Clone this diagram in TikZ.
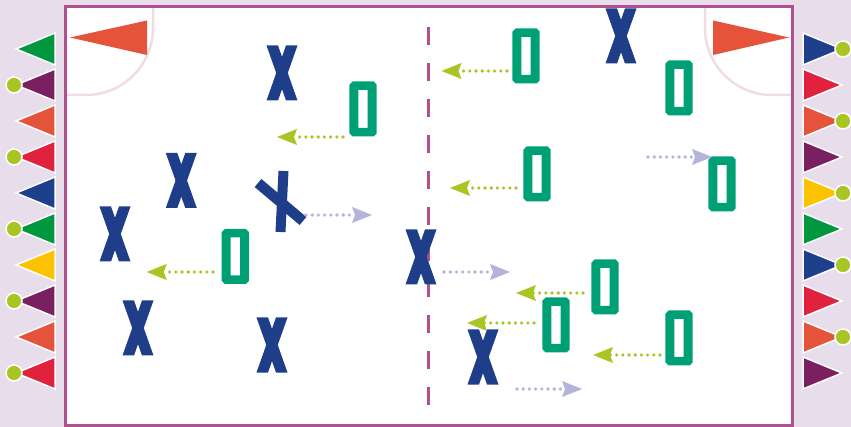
\documentclass[tikz,border=0pt]{standalone}
\usetikzlibrary{arrows.meta}

\definecolor{bg}{HTML}{E8DEEB}
\definecolor{frame}{HTML}{B0508F}
\definecolor{arcpink}{HTML}{F0DCE7}
\definecolor{fgreen}{HTML}{00973F}
\definecolor{fpurple}{HTML}{7A1F60}
\definecolor{forange}{HTML}{E5533A}
\definecolor{fred}{HTML}{E0223F}
\definecolor{fblue}{HTML}{1D3F8C}
\definecolor{fyellow}{HTML}{FBC200}
\definecolor{lime}{HTML}{A8C523}
\definecolor{xblue}{HTML}{1F3E8A}
\definecolor{ogreen}{HTML}{00A077}
\definecolor{lav}{HTML}{B3B3DB}

\tikzset{
  xmark/.pic={
    \fill[xblue] (-15.5,-27.5) -- (-4,-27.5) -- (15.5,27.5) -- (4,27.5) -- cycle;
    \fill[xblue] (15.5,-27.5) -- (4,-27.5) -- (-15.5,27.5) -- (-4,27.5) -- cycle;
  },
  omark/.pic={
    \fill[ogreen, even odd rule]
      (-10.5,-27.5) -- (10.5,-27.5) -- (13.7,-24.3) -- (13.7,24.3) -- (10.5,27.5)
      -- (-10.5,27.5) -- (-13.7,24.3) -- (-13.7,-24.3) -- cycle
      (-4.7,-19) rectangle (4.7,19);
  },
  passarrow/.style={draw=lime, line width=3.6pt, line cap=round,
    dash pattern=on 0pt off 6.2pt,
    -{Stealth[length=20pt,width=16pt,inset=3pt,line width=0pt,fill=lime]}},
  runarrow/.style={draw=lav, line width=3.6pt, line cap=round,
    dash pattern=on 0pt off 6.2pt,
    -{Stealth[length=20pt,width=16pt,inset=3pt,line width=0pt,fill=lav]}},
  pennant/.style={draw=white, line width=1.5pt, line join=miter},
  knob/.style={fill=lime, draw=white, line width=1.5pt},
}

\begin{document}
\begin{tikzpicture}[x=1pt,y=-1pt]
  \useasboundingbox (0,0) rectangle (851,427);
  \fill[bg] (0,0) rectangle (851,427);

  % playing field
  \fill[white] (65,7) rectangle (792.5,425.5);

  % corner zones
  \draw[arcpink, line width=2.5pt] (153,7) -- (153,28)
    arc[start angle=0, end angle=90, radius=67] -- (65,95);
  \draw[arcpink, line width=2.5pt] (705,7) -- (705,28)
    arc[start angle=180, end angle=90, radius=67] -- (792,95);

  % corner flags
  \fill[forange] (70,37.5) -- (147,20.5) -- (147,55) -- cycle;
  \fill[forange] (789,37.5) -- (713,20.5) -- (713,55) -- cycle;

  % halfway line
  \draw[frame, line width=3pt, dash pattern=on 18pt off 18pt] (428.5,27) -- (428.5,405);

  % left bunting
  \foreach \c [count=\i from 0] in {fgreen,fpurple,forange,fred,fblue,fgreen,fyellow,fpurple,forange,fred}{
    \pgfmathsetmacro\yy{49+36*\i}
    \filldraw[pennant, fill=\c] (55,\yy-16) -- (16,\yy) -- (55,\yy+16) -- cycle;
  }
  \foreach \k in {1,3,5,7,9}{
    \pgfmathsetmacro\yy{49+36*\k}
    \filldraw[knob] (14,\yy) circle[radius=8];
  }

  % right bunting
  \foreach \c [count=\i from 0] in {fblue,fred,forange,fpurple,fyellow,fgreen,fblue,fred,forange,fpurple}{
    \pgfmathsetmacro\yy{49+36*\i}
    \filldraw[pennant, fill=\c] (803,\yy-16) -- (842,\yy) -- (803,\yy+16) -- cycle;
  }
  \foreach \k in {0,2,4,6,8}{
    \pgfmathsetmacro\yy{49+36*\k}
    \filldraw[knob] (843,\yy) circle[radius=8];
  }

  % attackers (X)
  \pic at (282,73) {xmark};
  \pic at (181.3,180.5) {xmark};
  \pic at (115,234) {xmark};
  \pic at (138,328) {xmark};
  \pic at (272,345) {xmark};
  \pic at (421,257) {xmark};
  \pic at (621,36) {xmark};
  \pic at (483,357) {xmark};
  % falling attacker
  \draw[xblue, line width=10pt] (283.5,171) -- (280.5,232);
  \draw[xblue, line width=10.5pt] (258,183) -- (303,221);

  % defenders (O)
  \pic at (363,109) {omark};
  \pic at (526,56) {omark};
  \pic at (679,88) {omark};
  \pic at (537,174) {omark};
  \pic at (722,184) {omark};
  \pic at (235.3,256.5) {omark};
  \pic at (605,287) {omark};
  \pic at (556,325) {omark};
  \pic at (679,338) {omark};

  % pass directions
  \coordinate (pa1) at (343,137);   \coordinate (pb1) at (277,137);
  \coordinate (pa2) at (507,71);    \coordinate (pb2) at (441.5,71);
  \coordinate (pa3) at (516,188);   \coordinate (pb3) at (450,188);
  \coordinate (pa4) at (213,272);   \coordinate (pb4) at (146.7,272);
  \coordinate (pa5) at (583,293);   \coordinate (pb5) at (516,293);
  \coordinate (pa6) at (534,323);   \coordinate (pb6) at (467,323);
  \coordinate (pa7) at (660,355);   \coordinate (pb7) at (593,355);
  \foreach \n in {1,...,7}{ \draw[passarrow] (pa\n) -- (pb\n); }

  % running directions
  \coordinate (ra1) at (306,215);   \coordinate (rb1) at (372,215);
  \coordinate (ra2) at (444,272);   \coordinate (rb2) at (510,272);
  \coordinate (ra3) at (648,157);   \coordinate (rb3) at (712,157);
  \coordinate (ra4) at (517,389);   \coordinate (rb4) at (582,389);
  \foreach \n in {1,...,4}{ \draw[runarrow] (ra\n) -- (rb\n); }

  % field border
  \draw[frame, line width=3pt] (65,7) rectangle (792.5,425.5);
\end{tikzpicture}
\end{document}
